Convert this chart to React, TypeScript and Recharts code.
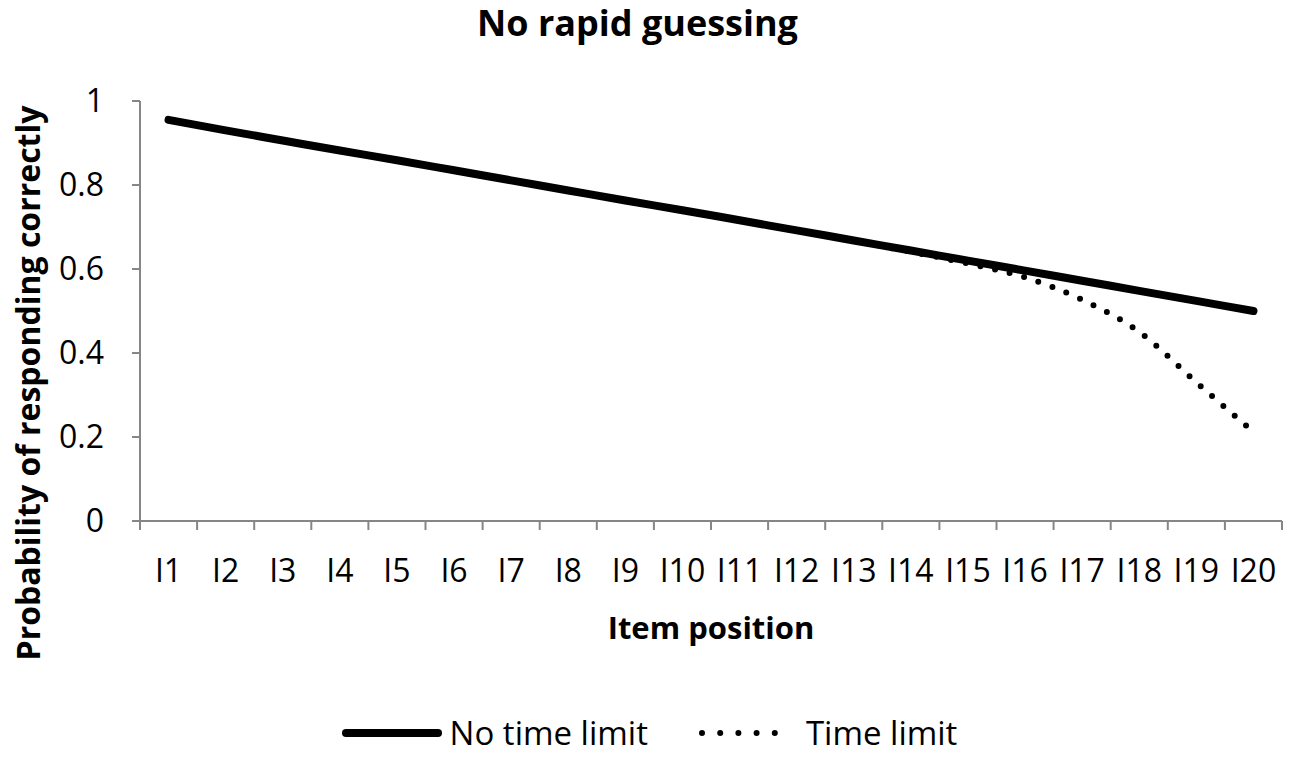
import React from 'react';
import { Legend, Line, LineChart, XAxis, YAxis, Label } from 'recharts';

const items = ['I1', 'I2', 'I3', 'I4', 'I5', 'I6', 'I7', 'I8', 'I9', 'I10', 'I11', 'I12', 'I13', 'I14', 'I15', 'I16', 'I17', 'I18', 'I19', 'I20'];
const noTimeLimit = [0.955, 0.93, 0.906, 0.882, 0.859, 0.835, 0.811, 0.787, 0.763, 0.74, 0.716, 0.692, 0.668, 0.644, 0.62, 0.596, 0.572, 0.548, 0.524, 0.5];
const timeLimit = [0.955, 0.93, 0.906, 0.882, 0.859, 0.835, 0.811, 0.787, 0.763, 0.74, 0.716, 0.692, 0.667, 0.641, 0.613, 0.58, 0.527, 0.45, 0.33, 0.212];
const yTicks = [0, 0.2, 0.4, 0.6, 0.8, 1];

const FONT = '"Open Sans", "Segoe UI", sans-serif';
const AXIS = '#868686';

const data = items.map((name, i) => ({
  x: i + 1,
  name,
  noLimit: noTimeLimit[i],
  limit: timeLimit[i],
}));

const labelTicks = data.map((d) => d.x);
const edgeTicks = [0.5, ...data.map((d) => d.x + 0.5)];

function YTitle({ viewBox }: any) {
  const cx = viewBox.x - 13;
  const cy = viewBox.y + viewBox.height / 2 + 72;
  return (
    <text
      x={cx}
      y={cy}
      transform={`rotate(-90, ${cx}, ${cy})`}
      textAnchor="middle"
      dominantBaseline="central"
      fontFamily={FONT}
      fontWeight={700}
      fontSize={32}
      fill="#000"
    >
      Probability of responding correctly
    </text>
  );
}

function LegendContent() {
  const text = { fontFamily: FONT, fontSize: 33, color: '#000', lineHeight: '44px' };
  return (
    <div style={{ display: 'flex', justifyContent: 'center', alignItems: 'center', width: 1299, height: 44 }}>
      <svg width={100} height={44}>
        <line x1={4} y1={22} x2={96} y2={22} stroke="#000" strokeWidth={8} strokeLinecap="round" />
      </svg>
      <span style={{ ...text, marginLeft: 8, marginRight: 51 }}>No time limit</span>
      <svg width={97} height={44}>
        <line x1={3} y1={22} x2={94} y2={22} stroke="#000" strokeWidth={6} strokeLinecap="round" strokeDasharray="0 18.2" />
      </svg>
      <span style={{ ...text, marginLeft: 10 }}>Time limit</span>
    </div>
  );
}

export default function App() {
  return (
    <div style={{ position: 'absolute', left: 0, top: 0, width: 1299, height: 757, background: '#fff' }}>
      <div
        style={{
          position: 'absolute',
          left: 0,
          top: 0,
          width: 1275,
          textAlign: 'center',
          fontFamily: FONT,
          fontWeight: 700,
          fontSize: 36,
          lineHeight: '46px',
          color: '#000',
        }}
      >
        No rapid guessing
      </div>
      <LineChart width={1299} height={757} data={data} margin={{ top: 101, right: 17, left: 40, bottom: 2 }}>
        <XAxis
          dataKey="x"
          type="number"
          domain={[0.5, 20.5]}
          ticks={edgeTicks}
          tickFormatter={() => ''}
          height={10}
          tickSize={9}
          stroke={AXIS}
          strokeWidth={2}
          allowDataOverflow
        />
        <XAxis
          xAxisId="lab"
          dataKey="x"
          type="number"
          domain={[0.5, 20.5]}
          ticks={labelTicks}
          interval={0}
          tickFormatter={(v) => items[v - 1]}
          axisLine={false}
          tickLine={false}
          tickSize={0}
          tickMargin={28}
          height={180}
          tick={{ fontFamily: FONT, fontSize: 32, fill: '#000' }}
        >
          <Label
            value="Item position"
            position="insideTop"
            offset={86}
            style={{ fontFamily: FONT, fontWeight: 700, fontSize: 31, fill: '#000' }}
          />
        </XAxis>
        <YAxis
          domain={[0, 1]}
          ticks={yTicks}
          width={100}
          tickSize={8}
          tickMargin={28}
          stroke={AXIS}
          strokeWidth={2}
          tickFormatter={(v) => String(v)}
          tick={{ fontFamily: FONT, fontSize: 32, fill: '#000' }}
        >
          <Label content={<YTitle />} />
        </YAxis>
        <Legend verticalAlign="bottom" height={44} wrapperStyle={{ left: 0, width: 1299 }} content={<LegendContent />} />
        <Line
          type="monotone"
          dataKey="limit"
          name="Time limit"
          stroke="#000"
          strokeWidth={6}
          strokeLinecap="round"
          strokeDasharray="0 15"
          dot={false}
          activeDot={false}
          isAnimationActive={false}
        />
        <Line
          type="monotone"
          dataKey="noLimit"
          name="No time limit"
          stroke="#000"
          strokeWidth={8}
          strokeLinecap="round"
          dot={false}
          activeDot={false}
          isAnimationActive={false}
        />
      </LineChart>
    </div>
  );
}
